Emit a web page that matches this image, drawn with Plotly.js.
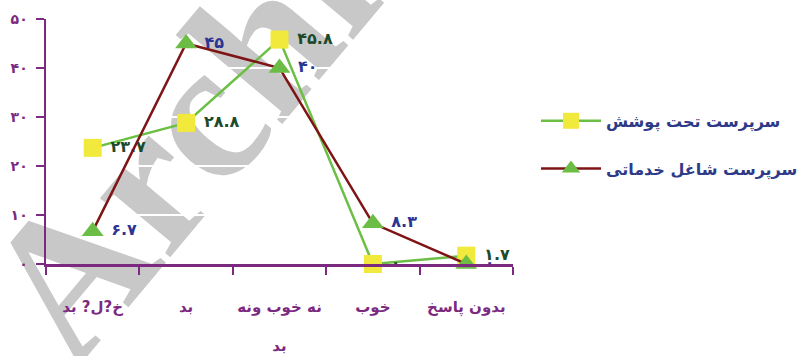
<!DOCTYPE html>
<html>
<head>
<meta charset="utf-8">
<script src="https://cdn.plot.ly/plotly-3.0.1.min.js"></script>
<style>
	body { margin: 0; background: #fff; }
	#wrap { position: relative; width: 800px; height: 356px; }
	#mark { position: absolute; left: 0; top: 0; z-index: 0; }
	#chart { position: absolute; left: 0; top: 0; width: 800px; height: 356px; z-index: 1; }
</style>
</head>
<body>
<div id="wrap">
	<svg id="mark" width="800" height="356">
		<text x="74" y="372" transform="rotate(-50 74 372)" font-family="Liberation Serif" font-weight="bold" font-size="200" fill="#c8c8c8">Archive</text>
	</svg>
	<div id="chart"></div>
</div>
<script>
const categories = ['خ?ل? بد', 'بد', 'نه خوب ونه<br><br>بد', 'خوب', 'بدون پاسخ'],
	seriesNames = ['سرپرست تحت پوشش', 'سرپرست شاغل خدماتی'],
	coveredValues = [23.7, 28.8, 45.8, 0, 1.7],
	employedValues = [6.7, 45, 40, 8.3, 0],
	yTicks = [0, 10, 20, 30, 40, 50];

const PURPLE = '#7b2a80',
	FONT = 'DejaVu Sans',
	GAP = '\u00a0';

// persian digits for labels
function fa(v) {
	return String(v).replace(/\d/g, d => '۰۱۲۳۴۵۶۷۸۹'[d]);
}

var covered = {
	x: categories,
	y: coveredValues,
	name: seriesNames[0],
	legendgroup: 'a',
	type: 'scatter',
	mode: 'lines+markers+text',
	line: { color: '#6cbf45', width: 2.5 },
	marker: { symbol: 'square', size: 18, color: '#f1e93c' },
	text: coveredValues.map(v => GAP + fa(v)),
	textposition: 'middle right',
	textfont: { family: FONT, size: 16, weight: 'bold', color: '#1c4a2a' },
	cliponaxis: false
};

var employed = {
	x: categories,
	y: employedValues,
	name: seriesNames[1],
	legendgroup: 'b',
	type: 'scatter',
	mode: 'lines+markers+text',
	line: { color: '#7f1416', width: 2.5 },
	marker: { symbol: 'triangle-up', size: 19, color: '#6cbd45' },
	text: employedValues.map(v => GAP + fa(v)),
	textposition: 'middle right',
	textfont: { family: FONT, size: 16, weight: 'bold', color: '#2b3592' },
	cliponaxis: false
};

var layout = {
	width: 800,
	height: 356,
	margin: { l: 46, r: 287, t: 19, b: 92 },
	paper_bgcolor: 'rgba(0,0,0,0)',
	plot_bgcolor: 'rgba(0,0,0,0)',
	font: { family: FONT },
	showlegend: true,
	legend: {
		xref: 'container',
		yref: 'container',
		x: 0.67,
		xanchor: 'left',
		y: 0.593,
		yanchor: 'middle',
		traceorder: 'grouped',
		tracegroupgap: 24,
		itemwidth: 60,
		font: { family: FONT, size: 16, weight: 'bold', color: '#2e3a88' },
		bgcolor: 'rgba(0,0,0,0)'
	},
	xaxis: {
		type: 'category',
		range: [-0.5, 4.5],
		showline: true,
		linecolor: PURPLE,
		linewidth: 2.5,
		showgrid: false,
		zeroline: false,
		ticks: 'outside',
		tickson: 'boundaries',
		ticklen: 8,
		tickwidth: 2,
		tickcolor: PURPLE,
		tickangle: 0,
		ticklabelstandoff: 27,
		tickfont: { family: FONT, size: 15, weight: 'bold', color: PURPLE },
		fixedrange: true
	},
	yaxis: {
		range: [0, 50],
		tickvals: yTicks,
		ticktext: yTicks.map(fa),
		showline: true,
		linecolor: PURPLE,
		linewidth: 2.5,
		showgrid: true,
		gridcolor: '#ffffff',
		gridwidth: 1.5,
		zeroline: false,
		ticks: 'outside',
		ticklen: 8,
		tickwidth: 2,
		tickcolor: PURPLE,
		ticklabelstandoff: 5,
		tickfont: { family: FONT, size: 14, weight: 'bold', color: PURPLE },
		fixedrange: true
	}
};

Plotly.newPlot('chart', [covered, employed], layout, { displayModeBar: false, staticPlot: true });
</script>
</body>
</html>
